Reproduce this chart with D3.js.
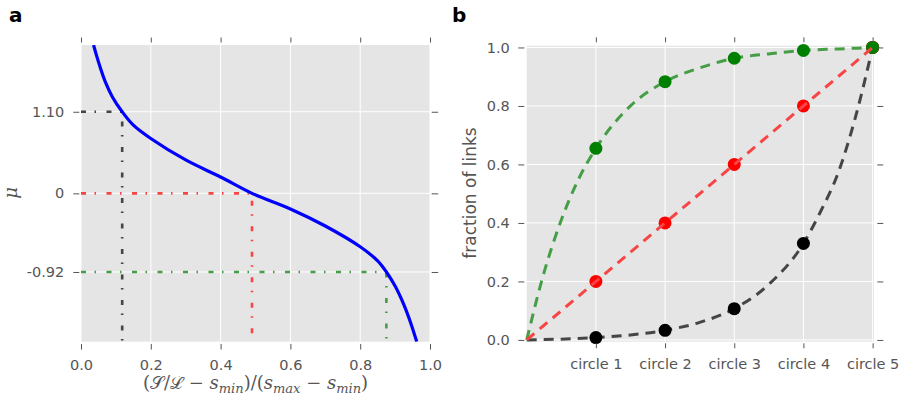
<!DOCTYPE html>
<html>
<head>
<meta charset="utf-8">
<script src="https://cdn.jsdelivr.net/npm/d3@7"></script>
<style>
  body { margin: 0; background: #fff; }
  text { font-family: "DejaVu Sans", sans-serif; }
  .tick text { fill: #555; font-size: 14.5px; font-family: "DejaVu Sans", sans-serif; }
  .tick line { stroke: #555; }
</style>
</head>
<body>
<div id="container"></div>
<script>
// panel a: blue curve (y in axis units, 0 at mid)
let curveS = [0.036, 0.045, 0.055, 0.07, 0.09, 0.118, 0.15, 0.2, 0.3, 0.4, 0.49, 0.6, 0.7, 0.8, 0.85, 0.875, 0.9, 0.925, 0.945, 0.962];
let curveMu = [2.0, 1.85, 1.70, 1.50, 1.30, 1.10, 0.92, 0.74, 0.45, 0.22, 0.0, -0.21, -0.44, -0.72, -0.91, -1.06, -1.25, -1.50, -1.75, -2.0];
// marker lines: x position, y position, label, colour
let markS = [0.118, 0.49, 0.875];
let markMu = [1.10, 0.0, -1.06];
let markLabels = ["1.10", "0", "-0.92"];
let markColors = ["#454545", "#f74545", "#459e45"];
let xTicksA = [0, 0.2, 0.4, 0.6, 0.8, 1.0];

// panel b
let circles = ["circle 1", "circle 2", "circle 3", "circle 4", "circle 5"];
let circleX = [1, 2, 3, 4, 5];
let greenPts = [0.655, 0.883, 0.963, 0.99, 1.0];
let redPts = [0.2, 0.4, 0.6, 0.8, 1.0];
let blackPts = [0.008, 0.033, 0.107, 0.33, 1.0];
let greenLineX = [0, 0.25, 0.5, 0.75, 1, 1.5, 2, 2.5, 3, 3.5, 4, 4.5, 5];
let greenLineY = [0, 0.23, 0.41, 0.55, 0.655, 0.80, 0.883, 0.93, 0.963, 0.978, 0.99, 0.995, 1.0];
let redLineX = [0, 5];
let redLineY = [0, 1];
let blackLineX = [0, 1, 1.5, 2, 2.5, 3, 3.5, 4, 4.25, 4.5, 4.75, 5];
let blackLineY = [0, 0.008, 0.017, 0.033, 0.06, 0.107, 0.19, 0.33, 0.44, 0.57, 0.76, 1.0];
let yTicksB = [0, 0.2, 0.4, 0.6, 0.8, 1.0];

let width = 901, height = 402;

let svg = d3.select("#container").append("svg")
    .attr("width", width)
    .attr("height", height);

// ---------- panel a ----------
let a = {left: 81, right: 430, top: 45, bottom: 341.7};

let xA = d3.scaleLinear().domain([0, 1]).range([a.left, a.right]);
let yA = d3.scaleLinear().domain([-2, 2]).range([a.bottom, a.top]);

let gA = svg.append("g");

gA.append("rect")
    .attr("x", a.left).attr("y", a.top)
    .attr("width", a.right - a.left).attr("height", a.bottom - a.top)
    .style("fill", "#e5e5e5");

gA.selectAll(".vgrid")
    .data(xTicksA)
    .enter().append("line")
    .attr("x1", d => xA(d)).attr("x2", d => xA(d))
    .attr("y1", a.top).attr("y2", a.bottom)
    .style("stroke", "#fff").style("stroke-width", 1);

gA.selectAll(".hgrid")
    .data(markMu)
    .enter().append("line")
    .attr("x1", a.left).attr("x2", a.right)
    .attr("y1", d => yA(d)).attr("y2", d => yA(d))
    .style("stroke", "#fff").style("stroke-width", 1);

svg.append("clipPath").attr("id", "clipA")
    .append("rect")
    .attr("x", a.left).attr("y", a.top)
    .attr("width", a.right - a.left).attr("height", a.bottom - a.top);

// dash-dot guides
markS.forEach(function(s, i) {
    gA.append("path")
        .attr("d", "M" + xA(0) + "," + yA(markMu[i]) + "H" + xA(s) + "V" + a.bottom)
        .style("fill", "none")
        .style("stroke", markColors[i])
        .style("stroke-width", 2.6)
        .style("stroke-dasharray", "5,8.5,1.5,10.5");
});

let lineA = d3.line()
    .x((d, i) => xA(curveS[i]))
    .y(d => yA(d))
    .curve(d3.curveCatmullRom);

gA.append("path")
    .datum(curveMu)
    .attr("clip-path", "url(#clipA)")
    .attr("d", lineA)
    .style("fill", "none")
    .style("stroke", "#0000ff")
    .style("stroke-width", 3.2);

gA.append("g")
    .attr("transform", "translate(0,344)")
    .call(d3.axisBottom(xA).tickValues(xTicksA).tickFormat(d3.format(".1f"))
        .tickSize(5.5).tickPadding(10).tickSizeOuter(0))
    .call(g => g.select(".domain").remove());

gA.append("g")
    .attr("transform", "translate(0,42.5)")
    .call(d3.axisTop(xA).tickValues(xTicksA).tickFormat("").tickSize(5).tickSizeOuter(0))
    .call(g => g.select(".domain").remove());

gA.append("g")
    .attr("transform", "translate(79.3,0)")
    .call(d3.axisLeft(yA).tickValues(markMu).tickFormat((d, i) => markLabels[i])
        .tickSize(6).tickPadding(9).tickSizeOuter(0))
    .call(g => g.select(".domain").remove());

gA.append("g")
    .attr("transform", "translate(431.7,0)")
    .call(d3.axisRight(yA).tickValues(markMu).tickFormat("").tickSize(6.5).tickSizeOuter(0))
    .call(g => g.select(".domain").remove());

// x label (mathtext style)
let xl = gA.append("text")
    .attr("x", (a.left + a.right) / 2)
    .attr("y", 389)
    .attr("text-anchor", "middle")
    .style("font-family", "'DejaVu Serif', serif")
    .style("font-size", "18px")
    .style("fill", "#555");

function piece(t, italic, small, dy) {
    let ts = xl.append("tspan").text(t);
    if (italic) ts.style("font-style", "italic");
    if (small) ts.style("font-size", "13px");
    if (dy) ts.attr("dy", dy);
    return ts;
}
piece("(", false);
piece("\u{1D4AE}", false);
piece("/", false);
piece("\u2112", false);
piece(" \u2212 ", false);
piece("s", true);
piece("min", true, true, 4);
piece(")/(", false, false, -4);
piece("s", true);
piece("max", true, true, 4);
piece(" \u2212 ", false, false, -4);
piece("s", true);
piece("min", true, true, 4);
piece(")", false, false, -4);

gA.append("text")
    .attr("transform", "translate(17,193) rotate(-90)")
    .attr("text-anchor", "middle")
    .style("font-family", "'DejaVu Serif', serif")
    .style("font-style", "italic")
    .style("font-size", "18px")
    .style("fill", "#555")
    .text("\u03bc");

svg.append("text")
    .attr("x", 9).attr("y", 22.3)
    .style("font-size", "20px").style("font-weight", "bold")
    .text("a");

// ---------- panel b ----------
let b = {left: 526.7, right: 874, top: 45.7, bottom: 341.7};

let xB = d3.scaleLinear().domain([0, 5.02]).range([b.left, b.right]);
let yB = d3.scaleLinear().domain([-0.006, 1.006]).range([b.bottom, b.top]);

let gB = svg.append("g");

gB.append("rect")
    .attr("x", b.left).attr("y", b.top)
    .attr("width", b.right - b.left).attr("height", b.bottom - b.top)
    .style("fill", "#e5e5e5");

gB.selectAll(".vgrid")
    .data(circleX)
    .enter().append("line")
    .attr("x1", d => xB(d)).attr("x2", d => xB(d))
    .attr("y1", b.top).attr("y2", b.bottom)
    .style("stroke", "#fff").style("stroke-width", 1);

gB.selectAll(".hgrid")
    .data(yTicksB)
    .enter().append("line")
    .attr("x1", b.left).attr("x2", b.right)
    .attr("y1", d => yB(d)).attr("y2", d => yB(d))
    .style("stroke", "#fff").style("stroke-width", 1);

function dashed(xs, ys, color) {
    let line = d3.line()
        .x((d, i) => xB(xs[i]))
        .y(d => yB(d))
        .curve(d3.curveMonotoneX);
    gB.append("path")
        .datum(ys)
        .attr("d", line)
        .style("fill", "none")
        .style("stroke", color)
        .style("stroke-width", 3)
        .style("stroke-dasharray", "10,7");
}

function dots(ys, color) {
    gB.selectAll(null)
        .data(ys)
        .enter().append("circle")
        .attr("cx", (d, i) => xB(circleX[i]))
        .attr("cy", d => yB(d))
        .attr("r", 6.5)
        .style("fill", color);
}

dashed(blackLineX, blackLineY, "#454545");
dashed(greenLineX, greenLineY, "#459e45");
dots(blackPts, "#000");
dots(redPts, "#ff0000");
dots(greenPts, "#008000");
dashed(redLineX, redLineY, "#f74545");

gB.append("g")
    .attr("transform", "translate(0,343.3)")
    .call(d3.axisBottom(xB).tickValues(circleX).tickFormat((d, i) => circles[i])
        .tickSize(5).tickPadding(10.5).tickSizeOuter(0))
    .call(g => g.select(".domain").remove());

gB.append("g")
    .attr("transform", "translate(0,42.3)")
    .call(d3.axisTop(xB).tickValues(circleX).tickFormat("").tickSize(5).tickSizeOuter(0))
    .call(g => g.select(".domain").remove());

gB.append("g")
    .attr("transform", "translate(524.3,0)")
    .call(d3.axisLeft(yB).tickValues(yTicksB).tickFormat(d3.format(".1f"))
        .tickSize(6).tickPadding(8.5).tickSizeOuter(0))
    .call(g => g.select(".domain").remove());

gB.append("g")
    .attr("transform", "translate(877.3,0)")
    .call(d3.axisRight(yB).tickValues(yTicksB).tickFormat("").tickSize(6).tickSizeOuter(0))
    .call(g => g.select(".domain").remove());

gB.append("text")
    .attr("transform", "translate(476,193) rotate(-90)")
    .attr("text-anchor", "middle")
    .style("font-size", "17px")
    .style("fill", "#555")
    .text("fraction of links");

svg.append("text")
    .attr("x", 452).attr("y", 22.3)
    .style("font-size", "20px").style("font-weight", "bold")
    .text("b");
</script>
</body>
</html>
